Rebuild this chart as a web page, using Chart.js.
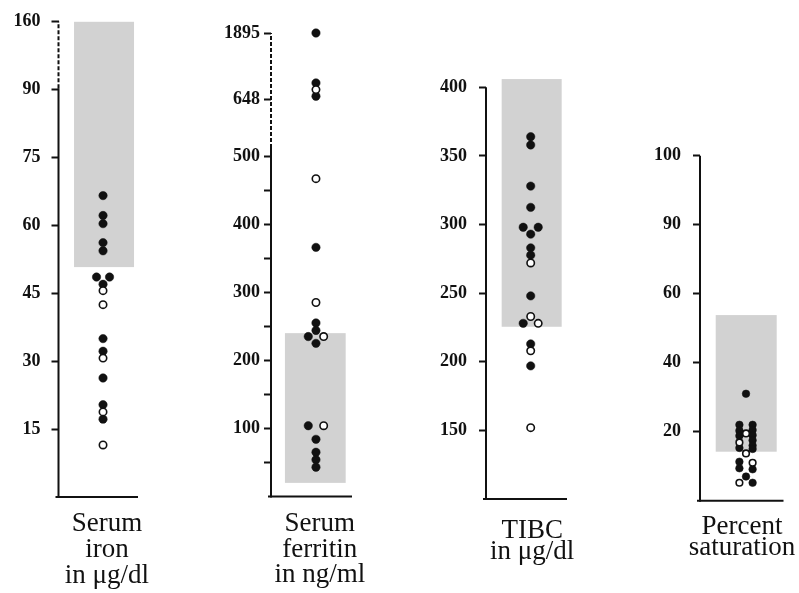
<!DOCTYPE html>
<html>
<head>
<meta charset="utf-8">
<script src="https://cdn.jsdelivr.net/npm/chart.js@4.4.0/dist/chart.umd.min.js"></script>
<style>
  html, body { margin: 0; padding: 0; background: #fff; }
  body { width: 799px; height: 593px; position: relative; overflow: hidden; }
  canvas { position: absolute; top: 0; }
</style>
</head>
<body>
<canvas id="iron" width="185" height="593" style="left:0px"></canvas>
<canvas id="ferritin" width="220" height="593" style="left:185px"></canvas>
<canvas id="tibc" width="215" height="593" style="left:405px"></canvas>
<canvas id="sat" width="179" height="593" style="left:620px"></canvas>
<script>
// Serum iron (µg/dl)
const ironSolid = [66.6, 62.2, 60.4, 56.2, 54.4, 48.6, 48.6, 47.0, 35.0, 32.2, 26.3, 20.4, 17.2];
const ironSolidLane = [0, 0, 0, 0, 0, -1, 1, 0, 0, 0, 0, 0, 0];
const ironOpen = [45.6, 42.5, 30.7, 18.8, 11.5];
const ironOpenLane = [0, 0, 0, 0, 0];
const ironTicks = [15, 30, 45, 60, 75, 90, 160];
const ironTickLabels = ['15', '30', '45', '60', '75', '90', '160'];
const ironNormal = [50.8, 160];

// Serum ferritin (ng/ml)
const ferritinSolid = [1895, 952, 699, 366, 255, 244, 235, 225, 104, 84, 65, 54, 43];
const ferritinSolidLane = [0, 0, 0, 0, 0, 0, -1, 0, -1, 0, 0, 0, 0];
const ferritinOpen = [826, 467, 285, 235, 104];
const ferritinOpenLane = [0, 0, 0, 1, 1];
const ferritinTicks = [50, 100, 150, 200, 250, 300, 350, 400, 450, 500, 648, 1895];
const ferritinTickLabels = ['', '100', '', '200', '', '300', '', '400', '', '500', '648', '1895'];
const ferritinNormal = [20, 240];

// TIBC (µg/dl)
const tibcSolid = [364, 358, 328, 312.5, 298, 298, 293, 283, 277.7, 248, 228, 213, 197];
const tibcSolidLane = [0, 0, 0, 0, -1, 1, 0, 0, 0, 0, -1, 0, 0];
const tibcOpen = [272, 233, 228, 208, 152];
const tibcOpenLane = [0, 0, 1, 0, 0];
const tibcTicks = [150, 200, 250, 300, 350, 400];
const tibcTickLabels = ['150', '200', '250', '300', '350', '400'];
const tibcNormal = [225.5, 406];

// Percent saturation
const satSolid = [31, 22, 20.3, 18.8, 15.3, 22, 20.5, 19, 17.5, 16, 15, 11.3, 9.4, 9.1, 5.2, 7];
const satSolidLane = [0, -1, -1, -1, -1, 1, 1, 1, 1, 1, 1, -1, -1, 1, 1, 0];
const satOpen = [19.5, 16.9, 13.7, 11.0, 5.2];
const satOpenLane = [0, -1, 0, 1, -1];
const satTicks = [20, 40, 60, 90, 100];
const satTickLabels = ['20', '40', '60', '90', '100'];
const satNormal = [14.2, 53.8];

// piecewise axis (broken scales): value -> tick position
function piecewise(v, vals, pos) {
  for (let i = 1; i < vals.length; i++) {
    if (v <= vals[i] || i === vals.length - 1) {
      const t = (v - vals[i - 1]) / (vals[i] - vals[i - 1]);
      return pos[i - 1] + t * (pos[i] - pos[i - 1]);
    }
  }
}

const INK = '#111';

const deco = {
  id: 'deco',
  beforeDatasetsDraw(chart, args, o) {
    const { ctx, chartArea } = chart;
    const x = chart.scales.x, y = chart.scales.y;
    ctx.save();
    // normal range box
    const bx0 = x.getPixelForValue(o.box[0]), bx1 = x.getPixelForValue(o.box[1]);
    const by0 = y.getPixelForValue(o.toPos(o.range[1])), by1 = y.getPixelForValue(o.toPos(o.range[0]));
    ctx.fillStyle = '#d2d2d2';
    ctx.fillRect(bx0, by0, bx1 - bx0, by1 - by0);
    // axes
    ctx.strokeStyle = INK;
    ctx.lineWidth = 2;
    const ax = chartArea.left;
    const split = o.dashFrom != null ? y.getPixelForValue(o.toPos(o.dashFrom)) : chartArea.top;
    ctx.beginPath();
    ctx.moveTo(ax, chartArea.bottom + 1);
    ctx.lineTo(ax, split);
    ctx.stroke();
    if (o.dashFrom != null) {
      ctx.setLineDash([4, 2]);
      ctx.beginPath();
      ctx.moveTo(ax, split);
      ctx.lineTo(ax, chartArea.top);
      ctx.stroke();
      ctx.setLineDash([]);
    }
    ctx.beginPath();
    ctx.moveTo(ax - 3, chartArea.bottom);
    ctx.lineTo(chartArea.right, chartArea.bottom);
    ctx.stroke();
    ctx.restore();
  },
  afterDraw(chart, args, o) {
    const ctx = chart.ctx;
    const cx = chart.scales.x.getPixelForValue(o.labelX);
    ctx.save();
    ctx.fillStyle = INK;
    ctx.font = '27px "Liberation Serif"';
    ctx.textAlign = 'center';
    ctx.textBaseline = 'alphabetic';
    o.title.forEach((line, i) => ctx.fillText(line, cx, o.titleY + i * o.titleLH));
    ctx.restore();
  }
};

function makePanel(id, p) {
  const toPos = v => piecewise(v, p.anchorVals, p.anchorPos);
  const pts = (vals, lanes) => vals.map((v, i) => ({ x: lanes[i], y: toPos(v) }));
  const canvas = document.getElementById(id);
  new Chart(canvas, {
    type: 'scatter',
    data: {
      datasets: [
        {
          data: pts(p.open, p.openLane),
          backgroundColor: '#fff',
          borderColor: INK,
          borderWidth: 1.6,
          pointRadius: p.r - 0.5,
          clip: false
        },
        {
          data: pts(p.solid, p.solidLane),
          backgroundColor: INK,
          borderColor: INK,
          borderWidth: 0.5,
          pointRadius: p.r,
          clip: false
        }
      ]
    },
    options: {
      responsive: false,
      animation: false,
      events: [],
      layout: {
        padding: { left: 0, top: p.top, bottom: 593 - p.bottom, right: canvas.width - p.right }
      },
      plugins: {
        legend: { display: false },
        tooltip: { enabled: false },
        deco: {
          toPos: toPos,
          box: p.box,
          range: p.range,
          dashFrom: p.dashFrom,
          title: p.title,
          titleY: p.titleY,
          titleLH: p.titleLH,
          labelX: p.labelX
        }
      },
      scales: {
        x: { type: 'linear', display: false, min: p.xMin, max: p.xMax },
        y: {
          type: 'linear',
          min: 0,
          max: toPos(p.ticks[p.ticks.length - 1]),
          afterFit: s => { s.width = p.axisW; },
          afterBuildTicks: s => { s.ticks = p.ticks.map(v => ({ value: toPos(v) })); },
          ticks: {
            autoSkip: false,
            color: INK,
            padding: p.tickPad,
            font: { family: '"Liberation Serif"', size: 18, weight: 'bold' },
            callback: (val, i) => p.tickLabels[i]
          },
          grid: { drawOnChartArea: false, tickLength: 7, tickWidth: 2, tickColor: INK },
          border: { display: false }
        }
      }
    },
    plugins: [deco]
  });
}

makePanel('iron', {
  solid: ironSolid, solidLane: ironSolidLane, open: ironOpen, openLane: ironOpenLane,
  ticks: ironTicks, tickLabels: ironTickLabels, range: ironNormal,
  anchorVals: [0, 90, 160], anchorPos: [0, 6, 7], dashFrom: 91.5,
  axisW: 58.5, top: 16, bottom: 497, right: 138, tickPad: 11,
  xMin: -6.85, xMax: 5.38, box: [-4.46, 4.77], r: 4.2,
  title: ['Serum', 'iron', 'in μg/dl'], titleY: 531, titleLH: 25.8, labelX: 0.6
});

makePanel('ferritin', {
  solid: ferritinSolid, solidLane: ferritinSolidLane, open: ferritinOpen, openLane: ferritinOpenLane,
  ticks: ferritinTicks, tickLabels: ferritinTickLabels, range: ferritinNormal,
  anchorVals: [0, 500, 648, 1895], anchorPos: [0, 5, 5.84, 6.81], dashFrom: 521,
  axisW: 86, top: 33, bottom: 496.5, right: 167, tickPad: 4,
  xMin: -5.84, xMax: 4.68, box: [-4.03, 3.86], r: 4.2,
  title: ['Serum', 'ferritin', 'in ng/ml'], titleY: 531, titleLH: 25.5, labelX: 0.5
});

makePanel('tibc', {
  solid: tibcSolid, solidLane: tibcSolidLane, open: tibcOpen, openLane: tibcOpenLane,
  ticks: tibcTicks, tickLabels: tibcTickLabels, range: tibcNormal,
  anchorVals: [100, 400], anchorPos: [0, 6], dashFrom: null,
  axisW: 81, top: 87.3, bottom: 499, right: 162, tickPad: 12,
  xMin: -5.96, xMax: 4.84, box: [-3.87, 4.13], r: 4.2,
  title: ['TIBC', 'in μg/dl'], titleY: 537.5, titleLH: 21, labelX: 0.2
});

makePanel('sat', {
  solid: satSolid, solidLane: satSolidLane, open: satOpen, openLane: satOpenLane,
  ticks: satTicks, tickLabels: satTickLabels, range: satNormal,
  anchorVals: [0, 20, 40, 60, 90, 100], anchorPos: [0, 1, 2, 3, 4, 5], dashFrom: null,
  axisW: 80, top: 155.7, bottom: 500.7, right: 163.5, tickPad: 12,
  xMin: -6.97, xMax: 5.68, box: [-4.59, 4.65], r: 3.8,
  title: ['Percent', 'saturation'], titleY: 534, titleLH: 21, labelX: -0.6
});
</script>
</body>
</html>
